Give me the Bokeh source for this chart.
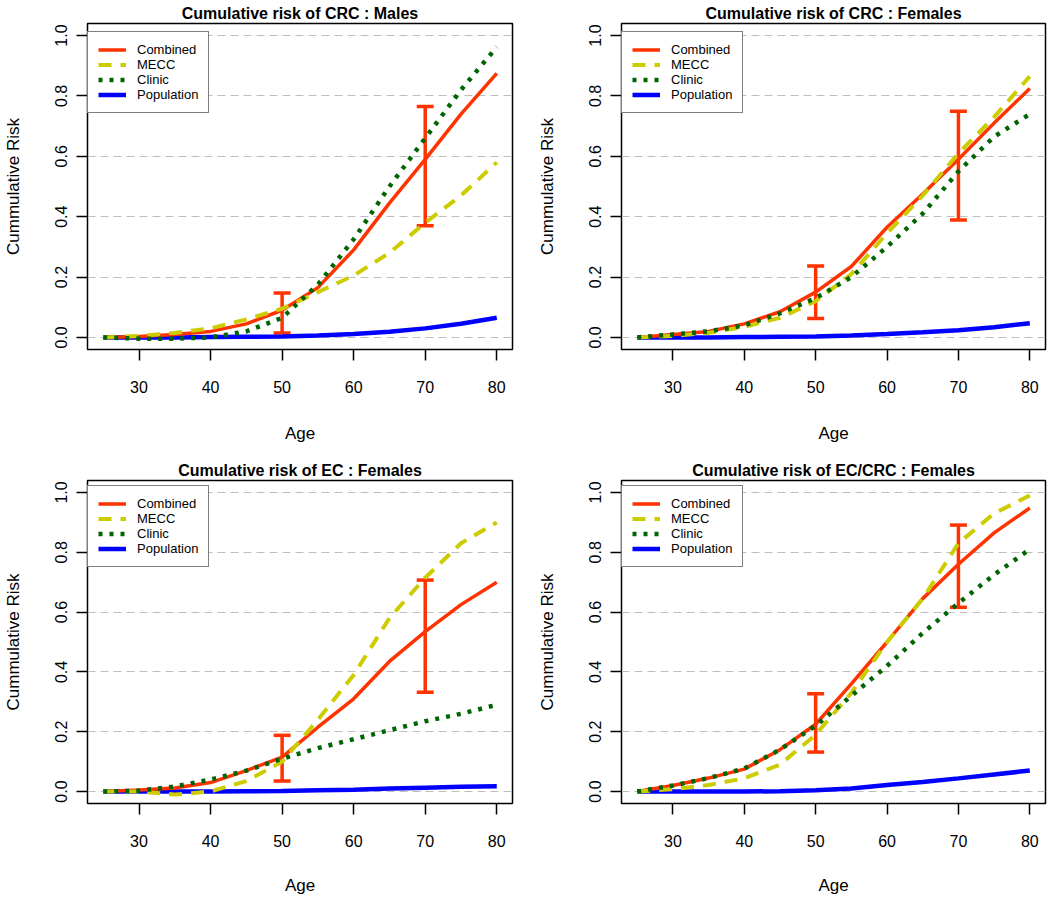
from bokeh.plotting import figure
from bokeh.layouts import gridplot
from bokeh.models import (Range1d, FixedTicker, Legend, LegendItem, Whisker,
                          TeeHead, ColumnDataSource)
from bokeh.embed import file_html
from bokeh.resources import INLINE

# ---------------- data ----------------
ages = [25, 30, 35, 40, 45, 50, 55, 60, 65, 70, 75, 80]

# CRC : Males
crc_m_combined = [0.0, 0.003, 0.01, 0.02, 0.045, 0.09, 0.165, 0.29, 0.445, 0.59, 0.74, 0.875]
crc_m_mecc = [0.0, 0.005, 0.015, 0.03, 0.06, 0.095, 0.15, 0.205, 0.28, 0.38, 0.47, 0.58]
crc_m_clinic = [0.0, -0.004, -0.004, 0.0, 0.02, 0.065, 0.175, 0.325, 0.50, 0.66, 0.82, 0.962]
crc_m_pop = [0.0, 0.0, 0.0, 0.001, 0.002, 0.003, 0.006, 0.011, 0.019, 0.03, 0.045, 0.065]
crc_m_lower = [0.015, 0.37]
crc_m_upper = [0.147, 0.765]

# CRC : Females
crc_f_combined = [0.0, 0.01, 0.02, 0.045, 0.085, 0.15, 0.235, 0.365, 0.475, 0.59, 0.71, 0.825]
crc_f_mecc = [0.0, 0.005, 0.015, 0.035, 0.065, 0.12, 0.21, 0.345, 0.47, 0.61, 0.73, 0.865]
crc_f_clinic = [0.0, 0.01, 0.02, 0.04, 0.08, 0.13, 0.20, 0.30, 0.41, 0.55, 0.665, 0.74]
crc_f_pop = [0.0, 0.0, 0.0, 0.001, 0.002, 0.003, 0.006, 0.011, 0.017, 0.024, 0.034, 0.047]
crc_f_lower = [0.063, 0.389]
crc_f_upper = [0.237, 0.749]

# EC : Females
ec_f_combined = [0.0, 0.005, 0.012, 0.03, 0.07, 0.115, 0.215, 0.31, 0.435, 0.535, 0.625, 0.70]
ec_f_mecc = [0.0, 0.0, -0.01, 0.0, 0.035, 0.10, 0.24, 0.39, 0.58, 0.715, 0.83, 0.90]
ec_f_clinic = [0.0, 0.003, 0.017, 0.04, 0.07, 0.11, 0.145, 0.175, 0.205, 0.235, 0.26, 0.29]
ec_f_pop = [0.0, 0.0, 0.0, 0.0, 0.001, 0.002, 0.004, 0.006, 0.01, 0.013, 0.016, 0.018]
ec_f_lower = [0.035, 0.332]
ec_f_upper = [0.188, 0.707]

# EC/CRC : Females
eccrc_f_combined = [0.0, 0.02, 0.045, 0.075, 0.14, 0.225, 0.36, 0.50, 0.645, 0.76, 0.865, 0.948]
eccrc_f_mecc = [0.0, 0.008, 0.022, 0.044, 0.09, 0.19, 0.33, 0.50, 0.645, 0.83, 0.93, 0.99]
eccrc_f_clinic = [0.0, 0.02, 0.045, 0.077, 0.14, 0.22, 0.32, 0.42, 0.53, 0.63, 0.725, 0.81]
eccrc_f_pop = [0.0, 0.0, 0.0, 0.0, 0.001, 0.004, 0.01, 0.022, 0.032, 0.044, 0.057, 0.07]
eccrc_f_lower = [0.132, 0.616]
eccrc_f_upper = [0.327, 0.891]

ci_ages = [50, 70]
x_ticks = [30, 40, 50, 60, 70, 80]
y_ticks = [0.0, 0.2, 0.4, 0.6, 0.8, 1.0]
series_labels = ["Combined", "MECC", "Clinic", "Population"]

RED = "#ff3300"
YEL = "#cccc00"
GRN = "#006400"
BLU = "#0000ff"
FONT = "Liberation Sans"


def make_panel(title, combined, mecc, clinic, pop, lower, upper,
               width, height, bl, br, bt, bb, age_standoff):
    p = figure(width=width, height=height, output_backend="svg",
               toolbar_location=None,
               x_range=Range1d(22.8, 82.2), y_range=Range1d(-0.04, 1.04),
               min_border_left=bl, min_border_right=br,
               min_border_top=bt, min_border_bottom=bb)
    p.background_fill_color = "white"
    p.border_fill_color = "white"
    p.outline_line_color = "black"
    p.outline_line_width = 1.5

    p.title.text = title
    p.title.align = "center"
    p.title.text_font = FONT
    p.title.text_font_size = "16px"
    p.title.text_font_style = "bold"
    p.title.text_color = "black"
    p.title.standoff = 4

    p.xaxis.ticker = FixedTicker(ticks=x_ticks)
    p.yaxis.ticker = FixedTicker(ticks=y_ticks)
    p.yaxis.major_label_overrides = {0.0: "0.0", 0.2: "0.2", 0.4: "0.4",
                                     0.6: "0.6", 0.8: "0.8", 1.0: "1.0"}
    for ax in (p.xaxis, p.yaxis):
        ax.axis_line_color = None
        ax.major_tick_out = 11
        ax.major_tick_in = 0
        ax.major_tick_line_color = "black"
        ax.major_tick_line_width = 1.5
        ax.minor_tick_line_color = None
        ax.major_label_text_font = FONT
        ax.major_label_text_font_size = "16px"
        ax.major_label_text_color = "black"
        ax.axis_label_text_font = FONT
        ax.axis_label_text_font_size = "17px"
        ax.axis_label_text_font_style = "normal"
        ax.axis_label_text_color = "black"
    p.xaxis.axis_label = "Age"
    p.xaxis.major_label_standoff = 20
    p.xaxis.axis_label_standoff = age_standoff
    p.yaxis.axis_label = "Cummulative Risk"
    p.yaxis.major_label_orientation = "vertical"
    p.yaxis.major_label_standoff = 9
    p.yaxis.axis_label_standoff = 30

    p.xgrid.visible = False
    p.ygrid.ticker = FixedTicker(ticks=y_ticks)
    p.ygrid.grid_line_color = "#bebebe"
    p.ygrid.grid_line_dash = "8 5"
    p.ygrid.grid_line_width = 1

    r4 = p.line(ages, pop, line_color=BLU, line_width=4.5)
    r1 = p.line(ages, combined, line_color=RED, line_width=3.5)
    r2 = p.line(ages, mecc, line_color=YEL, line_width=4, line_dash="13 9")
    r3 = p.line(ages, clinic, line_color=GRN, line_width=4.5, line_dash="4 7")

    src = ColumnDataSource(data=dict(x=ci_ages, lower=lower, upper=upper))
    w = Whisker(source=src, base="x", lower="lower", upper="upper",
                line_color=RED, line_width=3.5,
                upper_head=TeeHead(size=17, line_color=RED, line_width=3.5),
                lower_head=TeeHead(size=17, line_color=RED, line_width=3.5))
    p.add_layout(w)

    legend = Legend(items=[LegendItem(label=series_labels[0], renderers=[r1]),
                           LegendItem(label=series_labels[1], renderers=[r2]),
                           LegendItem(label=series_labels[2], renderers=[r3]),
                           LegendItem(label=series_labels[3], renderers=[r4])],
                    location=(0, 236),
                    border_line_color="black", border_line_width=1.5,
                    background_fill_color="white", background_fill_alpha=1.0,
                    label_text_font=FONT, label_text_font_size="13px",
                    label_text_color="black",
                    label_height=15, glyph_height=15, glyph_width=28,
                    spacing=0, padding=10, margin=0, label_standoff=11)
    p.add_layout(legend)
    return p


p1 = make_panel("Cumulative risk of CRC : Males", crc_m_combined, crc_m_mecc,
                crc_m_clinic, crc_m_pop, crc_m_lower, crc_m_upper,
                525, 457, 84, 13, 22, 108, 28)
p2 = make_panel("Cumulative risk of CRC : Females", crc_f_combined, crc_f_mecc,
                crc_f_clinic, crc_f_pop, crc_f_lower, crc_f_upper,
                523, 457, 96, 3, 22, 108, 28)
p3 = make_panel("Cumulative risk of EC : Females", ec_f_combined, ec_f_mecc,
                ec_f_clinic, ec_f_pop, ec_f_lower, ec_f_upper,
                525, 440, 84, 13, 22, 91, 26)
p4 = make_panel("Cumulative risk of EC/CRC : Females", eccrc_f_combined, eccrc_f_mecc,
                eccrc_f_clinic, eccrc_f_pop, eccrc_f_lower, eccrc_f_upper,
                523, 440, 96, 3, 22, 91, 26)

grid = gridplot([[p1, p2], [p3, p4]], toolbar_location=None)

with open("out.html", "w") as f:
    f.write(file_html(grid, INLINE))
